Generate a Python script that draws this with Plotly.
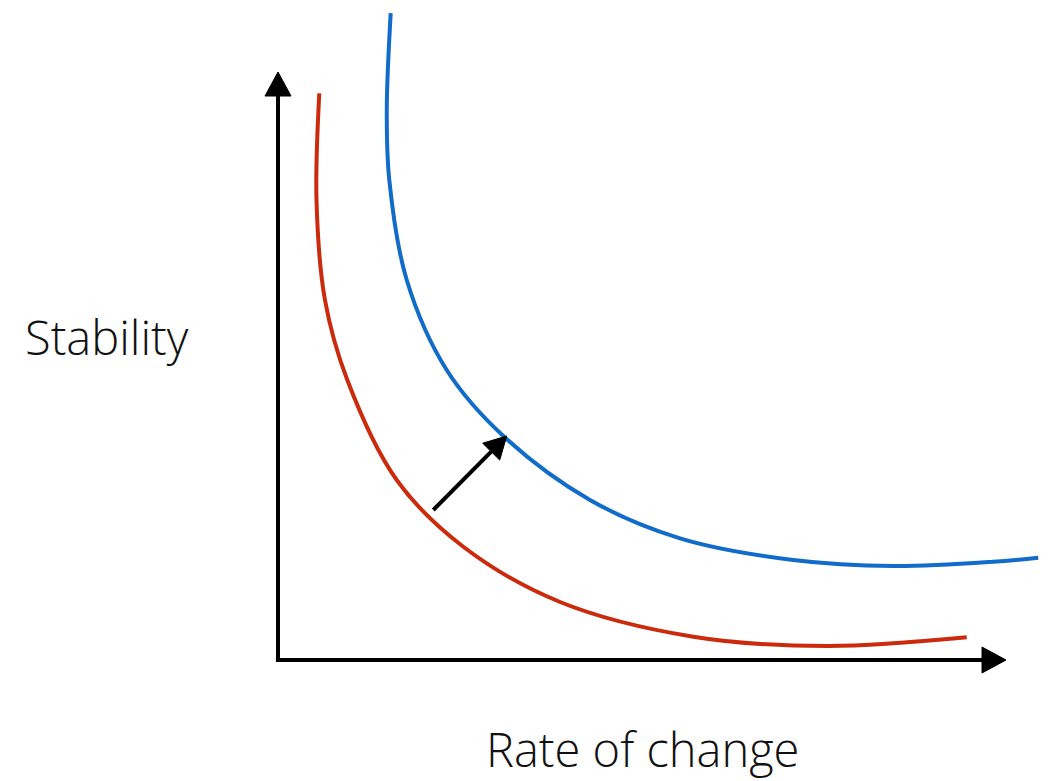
import numpy as np
import plotly.graph_objects as go

# Abstract chart units: x 0..100 along "Rate of change", y 0..100 along "Stability"
red_x = [5.90, 5.50, 6.71, 9.90, 16.96, 26.47, 40.29, 59.33, 78.39, 98.39]
red_y = [94.45, 76.67, 60.0, 46.67, 30.0, 18.88, 9.67, 3.88, 2.33, 3.78]

blue_x = [16.10, 15.54, 15.90, 18.39, 24.10, 32.19, 44.57, 57.43, 73.61, 87.90, 102.19, 108.61]
blue_y = [107.8, 91.67, 80.0, 63.33, 48.33, 37.33, 26.67, 20.28, 16.67, 15.67, 16.38, 17.05]

shift_start = [22.19, 25.0]
shift_end = [32.67, 37.33]

axis_x_end = 104.0
axis_y_end = 98.0

x_label = "Rate of change"
y_label = "Stability"

RED = "#CB2A0C"
BLUE = "#106CC8"
BLACK = "#000000"

W, H = 1049, 781
ox, oy = 278, 660        # pixel position of origin
sx, sy = 7.0, 6.0        # pixels per unit
x_range = [-ox / sx, (W - ox) / sx]
y_range = [-(H - oy) / sy, oy / sy]


def arrow_head(tip, direction, length_px, half_w_px):
    # triangle in unit coordinates, built in pixel space so shape is not distorted
    tx, ty = tip[0] * sx, tip[1] * sy
    d = np.array([direction[0] * sx, direction[1] * sy], dtype=float)
    d /= np.linalg.norm(d)
    n = np.array([-d[1], d[0]])
    base = np.array([tx, ty]) - d * length_px
    p1 = base + n * half_w_px
    p2 = base - n * half_w_px
    xs = [tx / sx, p1[0] / sx, p2[0] / sx, tx / sx]
    ys = [ty / sy, p1[1] / sy, p2[1] / sy, ty / sy]
    return xs, ys


fig = go.Figure()

# curves
fig.add_trace(go.Scatter(x=red_x, y=red_y, mode="lines",
                         line=dict(color=RED, width=4, shape="spline", smoothing=1.0),
                         hoverinfo="skip"))
fig.add_trace(go.Scatter(x=blue_x, y=blue_y, mode="lines",
                         line=dict(color=BLUE, width=4, shape="spline", smoothing=1.0),
                         hoverinfo="skip"))

# axes lines
head_len = 24
fig.add_trace(go.Scatter(x=[0, 0], y=[0, axis_y_end - head_len / sy], mode="lines",
                         line=dict(color=BLACK, width=4), hoverinfo="skip"))
fig.add_trace(go.Scatter(x=[-0.3, axis_x_end - head_len / sx], y=[0, 0], mode="lines",
                         line=dict(color=BLACK, width=4), hoverinfo="skip"))

# axis arrowheads
hx, hy = arrow_head([0, axis_y_end], [0, 1], head_len, 13)
fig.add_trace(go.Scatter(x=hx, y=hy, mode="lines", fill="toself", fillcolor=BLACK,
                         line=dict(color=BLACK, width=1), hoverinfo="skip"))
hx, hy = arrow_head([axis_x_end, 0], [1, 0], head_len, 13)
fig.add_trace(go.Scatter(x=hx, y=hy, mode="lines", fill="toself", fillcolor=BLACK,
                         line=dict(color=BLACK, width=1), hoverinfo="skip"))

# shift arrow
d = [shift_end[0] - shift_start[0], shift_end[1] - shift_start[1]]
sh_len = 22
dp = np.array([d[0] * sx, d[1] * sy]); dp /= np.linalg.norm(dp)
line_end = [shift_end[0] - dp[0] * sh_len / sx, shift_end[1] - dp[1] * sh_len / sy]
fig.add_trace(go.Scatter(x=[shift_start[0], line_end[0]], y=[shift_start[1], line_end[1]],
                         mode="lines", line=dict(color=BLACK, width=4), hoverinfo="skip"))
hx, hy = arrow_head(shift_end, d, sh_len, 12)
fig.add_trace(go.Scatter(x=hx, y=hy, mode="lines", fill="toself", fillcolor=BLACK,
                         line=dict(color=BLACK, width=1), hoverinfo="skip"))

font = dict(family="Open Sans, Roboto, Arial, sans-serif", size=47, color="#111111", weight=300)
fig.add_annotation(x=-24.5, y=53.8, text=y_label, showarrow=False,
                   xanchor="center", yanchor="middle", font=font)
fig.add_annotation(x=52.0, y=-14.8, text=x_label, showarrow=False,
                   xanchor="center", yanchor="middle", font=font)

fig.update_layout(
    width=W, height=H,
    margin=dict(l=0, r=0, t=0, b=0),
    paper_bgcolor="white", plot_bgcolor="white",
    showlegend=False,
    xaxis=dict(range=x_range, visible=False, fixedrange=True),
    yaxis=dict(range=y_range, visible=False, fixedrange=True),
)

fig.write_html("out.html", config={"displayModeBar": False},
               post_script="document.body.style.margin='0';")
